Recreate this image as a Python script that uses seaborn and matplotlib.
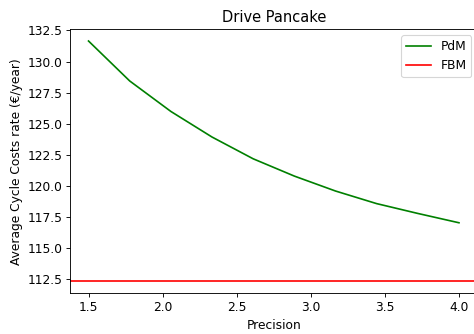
import numpy as np
import pandas as pd
import seaborn as sns
import matplotlib
matplotlib.use("Agg")
import matplotlib.pyplot as plt

# data
precision = [1.5, 1.778, 2.056, 2.333, 2.611, 2.889, 3.167, 3.444, 3.722, 4.0]
pdm_cost = [131.65, 128.44, 125.99, 123.94, 122.19, 120.80, 119.60, 118.59, 117.80, 117.05]
fbm_cost = 112.35

df = pd.DataFrame({"Precision": precision, "cost": pdm_cost})

plt.rcParams['font.family'] = ['DejaVu Sans']
plt.rcParams['font.size'] = 11
fig = plt.figure(figsize=(474 / 80, 334 / 80), dpi=80)
# axes runs slightly past the right edge, as in the cropped reference
ax = fig.add_axes([70 / 474, 1 - 293.3 / 334, 407.5 / 474, 264.3 / 334])

sns.lineplot(data=df, x="Precision", y="cost", color="green", label="PdM", ax=ax)
ax.axhline(fbm_cost, color="red", label="FBM")

ax.set_title("Drive Pancake")
ax.set_xlabel("Precision")
ax.set_ylabel("Average Cycle Costs rate (€/year)")
ax.legend(loc="upper right")

fig.savefig("out.png", dpi=80)
